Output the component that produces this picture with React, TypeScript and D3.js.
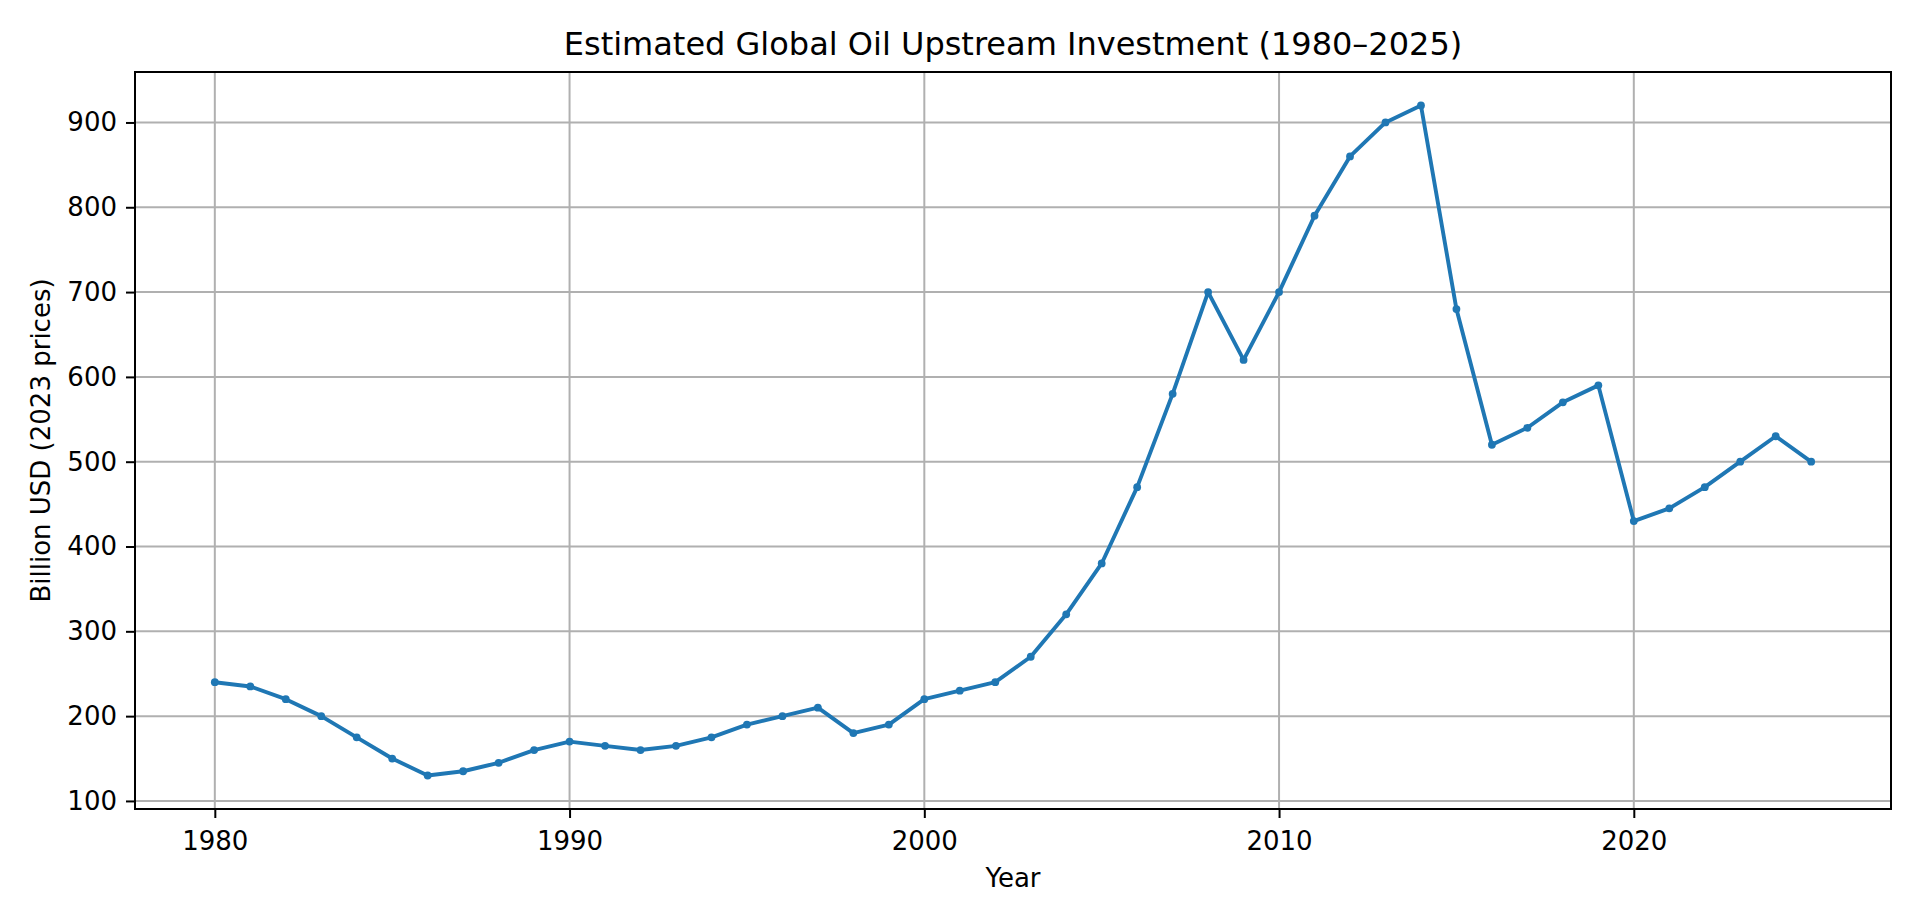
import { useEffect, useRef } from 'react'
import * as d3 from 'd3'

// * Data
const years: number[] = d3.range(1980, 2026)
const investment: number[] = [
  240, 235, 220, 200, 175, 150, 130, 135, 145, 160,
  170, 165, 160, 165, 175, 190, 200, 210, 180, 190,
  220, 230, 240, 270, 320, 380, 470, 580, 700, 620,
  700, 790, 860, 900, 920, 680, 520, 540, 570, 590,
  430, 445, 470, 500, 530, 500,
]
const xTicks: number[] = [1980, 1990, 2000, 2010, 2020]
const yTicks: number[] = [100, 200, 300, 400, 500, 600, 700, 800, 900]

const chartTitle = 'Estimated Global Oil Upstream Investment (1980–2025)'
const xLabel = 'Year'
const yLabel = 'Billion USD (2023 prices)'

export default function App() {
  const ref = useRef<SVGSVGElement | null>(null)
  const svgWidth = 1920
  const svgHeight = 922

  useEffect(() => {
    document.body.style.margin = '0'
    const svg = d3.select(ref.current)
    svg.selectAll('*').remove()

    const margin = { top: 72, right: 29, bottom: 113, left: 135 }
    const width = svgWidth - margin.left - margin.right
    const height = svgHeight - margin.top - margin.bottom
    const font = 'DejaVu Sans, sans-serif'

    const data = years.map((y, i) => ({ year: y, value: investment[i] }))

    // * Scales, matplotlib style 5% padding
    const xPad = (d3.max(years)! - d3.min(years)!) * 0.05
    const yMin = d3.min(investment)!
    const yMax = d3.max(investment)!
    const yPad = (yMax - yMin) * 0.05

    const xScale = d3
      .scaleLinear()
      .domain([d3.min(years)! - xPad, d3.max(years)! + xPad])
      .range([0, width])
    const yScale = d3
      .scaleLinear()
      .domain([yMin - yPad, yMax + yPad])
      .range([height, 0])

    svg.append('rect').attr('width', svgWidth).attr('height', svgHeight).attr('fill', 'white')

    const chart = svg
      .append('g')
      .attr('transform', `translate(${margin.left},${margin.top})`)

    // * Grid
    chart
      .append('g')
      .selectAll('line')
      .data(xTicks)
      .enter()
      .append('line')
      .attr('x1', (d) => xScale(d))
      .attr('x2', (d) => xScale(d))
      .attr('y1', 0)
      .attr('y2', height)
      .attr('stroke', '#b0b0b0')
      .attr('stroke-width', 2)

    chart
      .append('g')
      .selectAll('line')
      .data(yTicks)
      .enter()
      .append('line')
      .attr('x1', 0)
      .attr('x2', width)
      .attr('y1', (d) => yScale(d))
      .attr('y2', (d) => yScale(d))
      .attr('stroke', '#b0b0b0')
      .attr('stroke-width', 2)

    // * Line and markers
    const line = d3
      .line<{ year: number; value: number }>()
      .x((d) => xScale(d.year))
      .y((d) => yScale(d.value))

    chart
      .append('path')
      .datum(data)
      .attr('d', line)
      .attr('fill', 'none')
      .attr('stroke', '#1f77b4')
      .attr('stroke-width', 3.9)
      .attr('stroke-linejoin', 'round')
      .attr('stroke-linecap', 'square')

    chart
      .selectAll('.dot')
      .data(data)
      .enter()
      .append('circle')
      .attr('class', 'dot')
      .attr('cx', (d) => xScale(d.year))
      .attr('cy', (d) => yScale(d.value))
      .attr('r', 3.9)
      .attr('fill', '#1f77b4')

    // * Axes
    const xAxis = chart
      .append('g')
      .attr('transform', `translate(0, ${height})`)
      .call(d3.axisBottom(xScale).tickValues(xTicks).tickFormat(d3.format('d')).tickSize(9).tickPadding(8))
    const yAxis = chart
      .append('g')
      .call(d3.axisLeft(yScale).tickValues(yTicks).tickFormat(d3.format('d')).tickSize(9).tickPadding(9))

    for (const ax of [xAxis, yAxis]) {
      ax.select('.domain').remove()
      ax.selectAll('.tick line').attr('stroke', 'black').attr('stroke-width', 2)
      ax.selectAll('.tick text')
        .attr('fill', 'black')
        .style('font-family', font)
        .style('font-size', '26px')
    }
    xAxis.selectAll('.tick text').attr('dy', '0').attr('y', 41)

    // * Frame
    chart
      .append('rect')
      .attr('width', width)
      .attr('height', height)
      .attr('fill', 'none')
      .attr('stroke', 'black')
      .attr('stroke-width', 2)

    // * Labels
    svg
      .append('text')
      .attr('x', margin.left + width / 2)
      .attr('y', 55)
      .attr('text-anchor', 'middle')
      .style('font-family', font)
      .style('font-size', '32px')
      .text(chartTitle)

    svg
      .append('text')
      .attr('x', margin.left + width / 2)
      .attr('y', 887)
      .attr('text-anchor', 'middle')
      .style('font-family', font)
      .style('font-size', '26px')
      .text(xLabel)

    svg
      .append('text')
      .attr('transform', `translate(50, ${margin.top + height / 2}) rotate(-90)`)
      .attr('text-anchor', 'middle')
      .style('font-family', font)
      .style('font-size', '26px')
      .text(yLabel)
  }, [])

  return (
    <svg
      ref={ref}
      width={svgWidth}
      height={svgHeight}
      style={{ position: 'absolute', left: 0, top: 0, display: 'block' }}
    />
  )
}
